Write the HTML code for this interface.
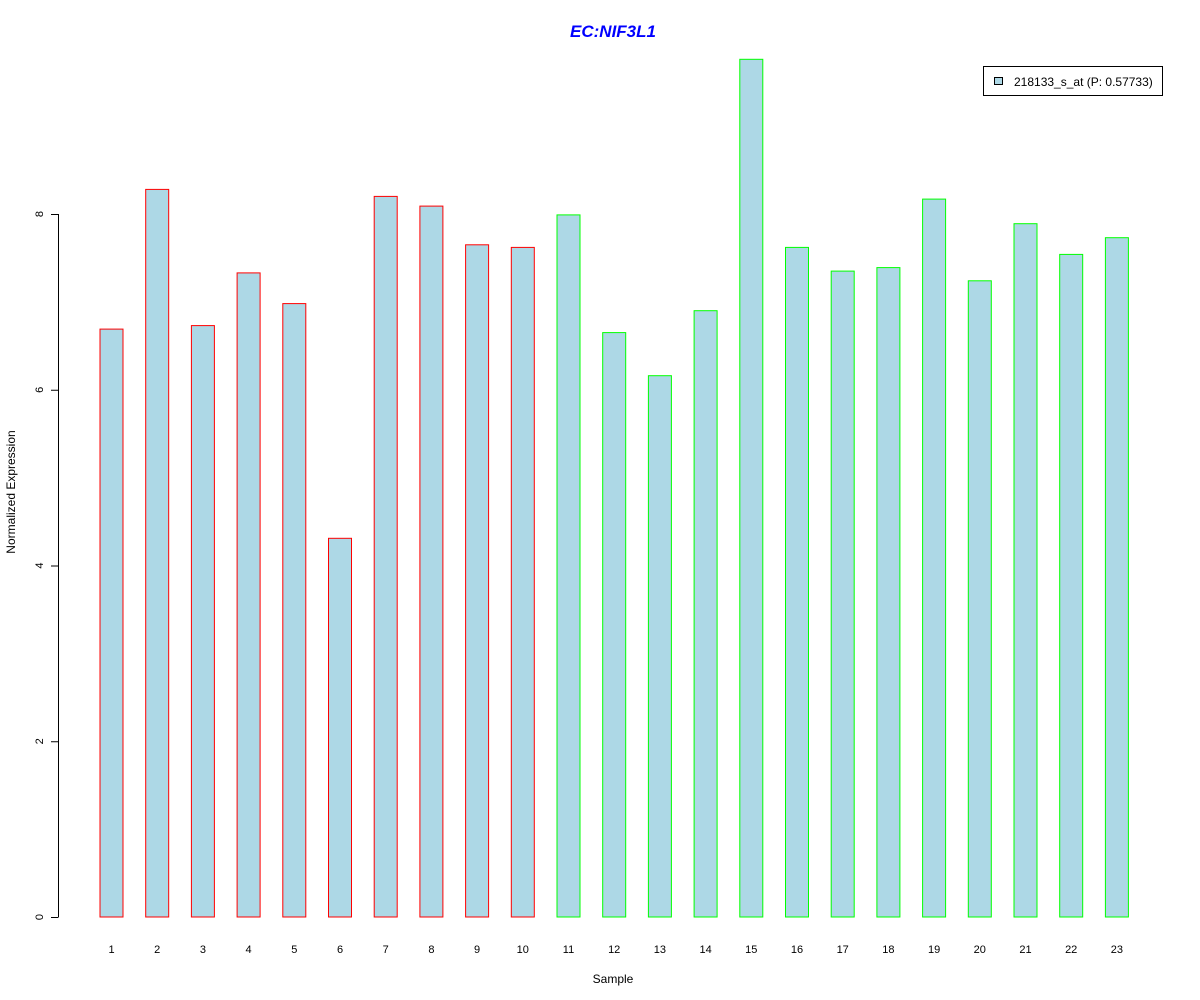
<!DOCTYPE html>
<html><head><meta charset="utf-8"><style>
body{margin:0;background:#fff;}
svg{display:block;font-family:"Liberation Sans",Arial,sans-serif;}
</style></head><body>
<svg id="chart" width="1200" height="1000">
<text x="613" y="37" text-anchor="middle" font-size="17" font-weight="bold" font-style="italic" fill="#0000ff">EC:NIF3L1</text>
<g id="bars"></g>
<g id="yaxis"></g>
<g id="xaxis"></g>
<text x="15" y="492" transform="rotate(-90 15 492)" text-anchor="middle" font-size="12">Normalized Expression</text>
<text x="613" y="983" text-anchor="middle" font-size="12">Sample</text>
<g>
<rect x="983.5" y="66.5" width="179" height="29" fill="#fff" stroke="#000"/>
<rect x="994.5" y="77.5" width="8" height="7" fill="#add8e6" stroke="#000"/>
<text x="1014" y="86" font-size="12">218133_s_at (P: 0.57733)</text>
</g>
</svg>
<script>
const categories = ["1","2","3","4","5","6","7","8","9","10","11","12","13","14","15","16","17","18","19","20","21","22","23"];
const values = [6.69,8.28,6.73,7.33,6.98,4.31,8.20,8.09,7.65,7.62,7.99,6.65,6.16,6.90,9.76,7.62,7.35,7.39,8.17,7.24,7.89,7.54,7.73];
const groups = ["a","a","a","a","a","a","a","a","a","a","b","b","b","b","b","b","b","b","b","b","b","b","b"];
const yTicks = [0,2,4,6,8];

const NS = "http://www.w3.org/2000/svg";
const y = v => 917 - v * 87.875;
const x = i => 111.5 + i * 45.7;
const bw = 23;
const bars = document.getElementById("bars");
const xa = document.getElementById("xaxis");
values.forEach((v, i) => {
  const r = document.createElementNS(NS, "rect");
  r.setAttribute("x", (x(i) - bw / 2).toFixed(1));
  r.setAttribute("y", y(v).toFixed(1));
  r.setAttribute("width", bw);
  r.setAttribute("height", (y(0) - y(v)).toFixed(1));
  r.setAttribute("fill", "#add8e6");
  r.setAttribute("stroke", groups[i] === "a" ? "#ff0000" : "#00ff00");
  
  
  bars.appendChild(r);
  const t = document.createElementNS(NS, "text");
  t.setAttribute("x", x(i));
  t.setAttribute("y", 953);
  t.setAttribute("text-anchor", "middle");
  t.setAttribute("font-size", "11");
  t.textContent = categories[i];
  
  
  xa.appendChild(t);
});
const ya = document.getElementById("yaxis");
const line = document.createElementNS(NS, "line");
line.setAttribute("x1", 58.5); line.setAttribute("x2", 58.5);
line.setAttribute("y1", y(yTicks[0])); line.setAttribute("y2", y(yTicks[yTicks.length - 1]));
line.setAttribute("stroke", "#000");


ya.appendChild(line);
yTicks.forEach(v => {
  const tk = document.createElementNS(NS, "line");
  tk.setAttribute("x1", 51); tk.setAttribute("x2", 58.5);
  tk.setAttribute("y1", y(v) + 0.5); tk.setAttribute("y2", y(v) + 0.5);
  tk.setAttribute("stroke", "#000");
  
  
  ya.appendChild(tk);
  const t = document.createElementNS(NS, "text");
  const ty = y(v);
  t.setAttribute("x", 43); t.setAttribute("y", ty);
  t.setAttribute("transform", "rotate(-90 43 " + ty + ")");
  t.setAttribute("text-anchor", "middle");
  t.setAttribute("font-size", "11");
  t.textContent = v;
  
  
  ya.appendChild(t);
});
</script>
</body></html>
